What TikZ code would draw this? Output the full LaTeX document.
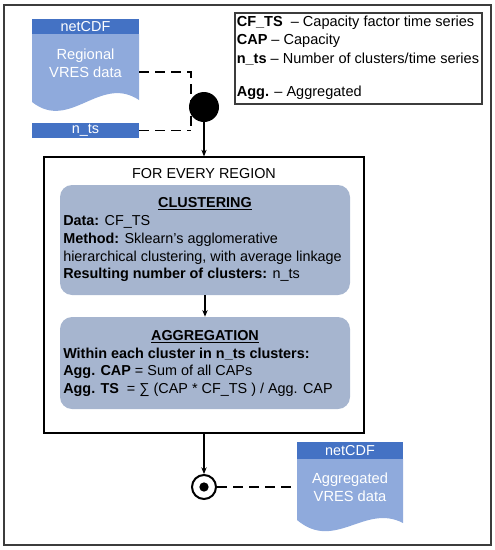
\documentclass[tikz,border=0pt]{standalone}
\usepackage{fontspec}
\setmainfont{Liberation Sans}
\usetikzlibrary{arrows.meta}
\definecolor{hdr}{RGB}{68,114,196}
\definecolor{docbody}{RGB}{143,170,220}
\definecolor{procfill}{RGB}{166,181,207}
\definecolor{frame}{RGB}{60,60,60}
\begin{document}
\begin{tikzpicture}[x=0.75pt,y=-0.75pt,
  txt/.style={font=\fontsize{10.8}{13.2}\selectfont, inner sep=0pt},
  legtxt/.style={font=\fontsize{10.9}{13.2}\selectfont, inner sep=0pt, anchor=west},
  wtxt/.style={txt, text=white, align=center},
  proc/.style={fill=procfill, rounded corners=9pt, minimum width=217.5pt, inner sep=0pt},
  dl/.style={dashed, dash pattern=on 7.5pt off 4.5pt, line width=1.1pt},
  arr/.style={-{Stealth[length=5pt,width=4pt]}, line width=0.8pt}]
\useasboundingbox (0,0) rectangle (495,550);
% outer frame
\draw[line width=1.1pt, draw=frame] (4,5) rectangle (491,545);

% legend
\node[draw=frame, line width=0.9pt, minimum width=185.25pt, minimum height=68.25pt, inner sep=0pt] (leg) at (358.5,58.5) {};
\node[legtxt] (l1) at (236.5,23) {\textbf{CF\_TS}\ \ – Capacity factor time series};
\node[legtxt] (l2) at (236.5,41) {\textbf{CAP} – Capacity};
\node[legtxt] (l3) at (236.5,59) {\textbf{n\_ts} – Number of clusters/time series};
\node[legtxt] (l4) at (236.5,93) {\textbf{Agg.} – Aggregated};

% input document
\fill[docbody] (32,34) -- (139,34) -- (139,100) .. controls (100,74) and (70,132) .. (32,102) -- cycle;
\fill[hdr] (32,19) rectangle (139,34);
\node[wtxt] (d1h) at (85.5,26.8) {netCDF};
\node[wtxt, font=\fontsize{11}{13.5}\selectfont] (d1t) at (85.5,63.5) {Regional\\VRES data};
\coordinate (d1e) at (139,72);

% n_ts box
\node[fill=hdr, minimum width=80.25pt, minimum height=11.25pt, inner sep=0pt] (nts) at (85.5,130.5) {};
\node[wtxt] (ntst) at (85.5,130) {n\_ts};

% join circle
\coordinate (join) at (191,130.5);
\draw[dl] (d1e) -| (join);
\draw[dl] (nts.east) -- (join);
\node[circle, fill=black, minimum size=22.5pt, inner sep=0pt] (c1) at (204,107) {};

% main box
\node[draw=black, line width=0.9pt, minimum width=240pt, minimum height=207pt, inner sep=0pt] (main) at (204,295) {};
\draw[arr] (c1.south) -- (main.north);
\node[txt] (fer) at (204,174) {FOR EVERY REGION};

% clustering
\node[proc, minimum height=82.5pt] (clu) at (205,240) {};
\node[txt] (cluh) at (205,204) {\textbf{\underline{CLUSTERING}}};
\node[txt, anchor=north west, align=left] (clut) at (63,215.5) {\textbf{Data:} CF\_TS\\
\textbf{Method:} Sklearn’s agglomerative\\
hierarchical clustering, with average linkage\\
\textbf{Resulting number of clusters:} n\_ts};

% aggregation
\node[proc, minimum height=69pt] (agg) at (205,363) {};
\node[txt] (aggh) at (205,337) {\textbf{\underline{AGGREGATION}}};
\node[txt, anchor=north west, align=left] (aggt) at (63,347.5) {\textbf{Within each cluster in n\_ts clusters:}\\
\textbf{Agg. CAP} = Sum of all CAPs\\
\textbf{Agg. TS}\ \ = ∑ (CAP * CF\_TS ) / Agg. CAP};

\draw[arr] (clu.south) -- (agg.north);

% end
\node[circle, draw=black, line width=1.5pt, minimum size=18pt, inner sep=0pt] (ec) at (204,487) {};
\node[circle, fill=black, minimum size=7pt, inner sep=0pt] (ed) at (204,487) {};
\draw[arr] (main.south) -- (ec.north);

% output document
\fill[docbody] (297,459) -- (403,459) -- (403,523) .. controls (365,503) and (335,552) .. (297,520) -- cycle;
\fill[hdr] (297,442) rectangle (403,459);
\node[wtxt] (d2h) at (350,450.5) {netCDF};
\node[wtxt, font=\fontsize{11}{13.5}\selectfont] (d2t) at (350,487) {Aggregated\\VRES data};
\coordinate (d2w) at (297,487);
\draw[dl] (ec.east) -- (d2w);
\end{tikzpicture}
\end{document}
